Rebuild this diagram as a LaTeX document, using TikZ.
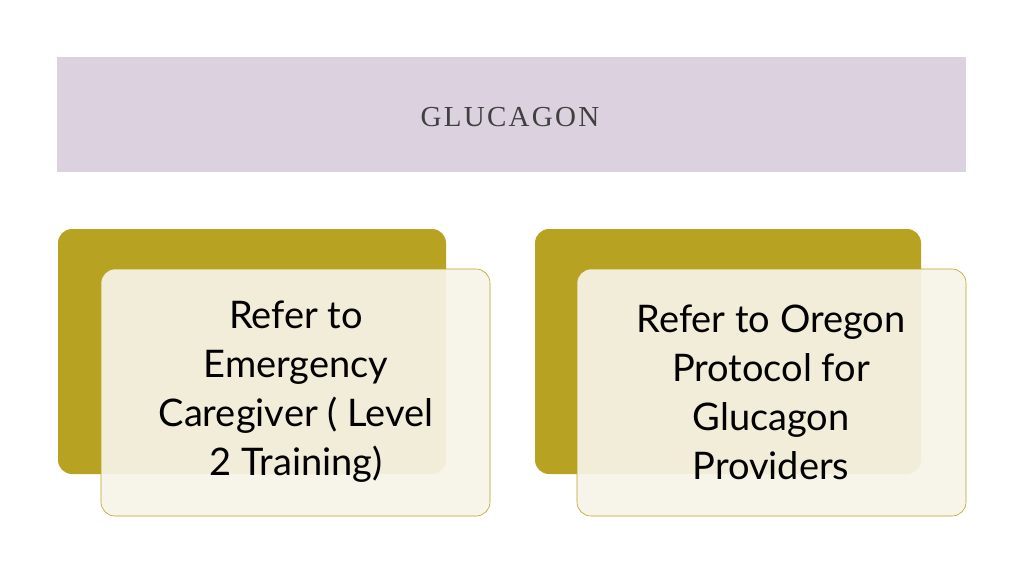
\documentclass[tikz,border=0pt]{standalone}
\usepackage{fontspec}
\setmainfont{Lato}
\newfontfamily\titlefont[LetterSpace=8]{Liberation Serif}
\definecolor{bandlilac}{HTML}{DCD1DF}
\definecolor{oliv}{HTML}{B8A222}
\definecolor{cream}{HTML}{F6F4E8}
\tikzset{
  backbox/.style={fill=oliv, rounded corners=14pt},
  frontbox/.style={fill=cream, fill opacity=0.92, draw=oliv, line width=0.6pt, rounded corners=14pt},
  boxtext/.style={font=\fontsize{38}{49}\selectfont, align=center, text=black}
}
\begin{document}
\begin{tikzpicture}[x=1pt,y=-1pt]
\useasboundingbox (0,0) rectangle (1024,576);
\fill[bandlilac] (57,57) rectangle (966,172);
\node[font=\titlefont\fontsize{29}{30}\selectfont, text=black!75] (title) at (510,117) {GLUCAGON};
% left pair
\fill[backbox] (58,229) rectangle (446,474);
\draw[frontbox] (101,269) rectangle (490,516);
\node[boxtext] (left) at (296,392) {Refer to\\Emergency\\Caregiver ( Level\\2 Training)};
% right pair
\fill[backbox] (535,229) rectangle (921,474);
\draw[frontbox] (577,269) rectangle (966,516);
\node[boxtext] (right) at (771,392) {Refer to Oregon\\Protocol for\\Glucagon\\Providers};
\end{tikzpicture}
\end{document}
